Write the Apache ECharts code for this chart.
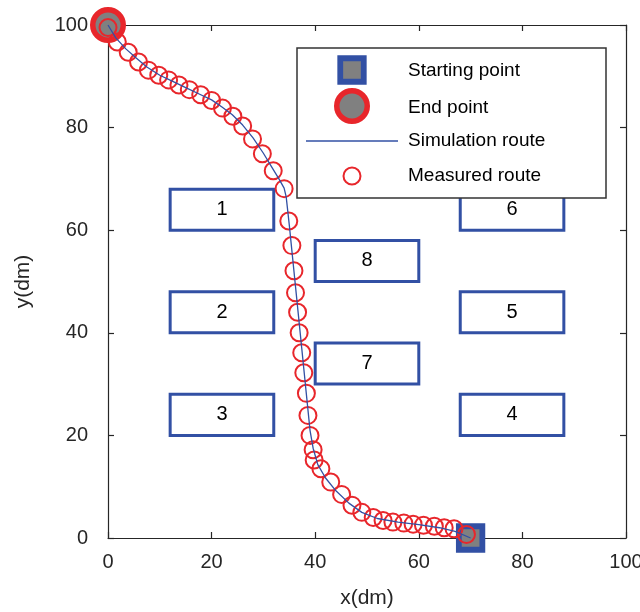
<!DOCTYPE html>
<html>
<head>
<meta charset="utf-8">
<title>Route planning</title>
<script src="https://cdn.jsdelivr.net/npm/echarts@6/dist/echarts.min.js"></script>
<style>
  html, body { margin: 0; padding: 0; background: #fff; }
  #chart { width: 640px; height: 612px; }
</style>
</head>
<body>
<div id="chart"></div>
<script>
// Axis ticks
const xTicks = [0, 20, 40, 60, 80, 100];
const yTicks = [0, 20, 40, 60, 80, 100];

// Obstacles: label and rectangle bounds (dm)
const obstacleNames = ['1', '2', '3', '4', '5', '6', '7', '8'];
const obstacleX0 = [12, 12, 12, 68, 68, 68, 40, 40];
const obstacleX1 = [32, 32, 32, 88, 88, 88, 60, 60];
const obstacleY0 = [60, 40, 20, 20, 40, 60, 30, 50];
const obstacleY1 = [68, 48, 28, 28, 48, 68, 38, 58];

// Start and end of the route
const startPoint = [70, 0];
const endPoint = [0, 100];

// Simulation route (x, y in dm)
const simX = [70, 67, 64, 60, 56, 52, 49, 46.5, 44, 42, 40.5, 39.6, 39, 38.5, 38, 37.4, 36.8, 36.2, 35.6, 35, 34.4, 34,
              33, 31.5, 30, 28, 26, 24, 22, 20, 17.5, 15, 12.5, 10, 7.5, 5.5, 3.5, 1.5, 0];
const simY = [0, 1.3, 2.0, 2.6, 3.1, 3.8, 5.0, 6.8, 9.2, 11.7, 14.3, 17.5, 21, 26, 31, 37, 43, 49, 55, 61, 66.5, 68.2,
              70, 72.5, 75, 78, 80.5, 82.5, 84, 85.4, 86.6, 87.8, 89, 90.2, 91.8, 93.5, 95.3, 97.5, 100];

// Measured route (x, y in dm)
const measX = [0, 1.8, 3.9, 5.9, 7.8, 9.8, 11.7, 13.7, 15.7, 17.9, 20.0, 22.1, 24.1, 26.0, 27.9, 29.8, 31.9, 34.0,
               34.9, 35.5, 35.9, 36.2, 36.6, 36.9, 37.4, 37.8, 38.3, 38.6, 39.0, 39.6, 39.8, 41.1, 43.0, 45.1, 47.1,
               49.0, 51.2, 53.1, 55.0, 57.1, 58.9, 60.9, 63.0, 64.9, 66.8, 69.2];
const measY = [99.5, 96.7, 94.7, 92.8, 91.2, 90.2, 89.3, 88.3, 87.4, 86.4, 85.3, 83.8, 82.2, 80.3, 77.8, 74.9, 71.6, 68.1,
               61.8, 57.0, 52.1, 47.8, 44.0, 40.0, 36.1, 32.2, 28.2, 23.9, 20.0, 17.2, 15.2, 13.5, 10.9, 8.5, 6.4,
               5.0, 4.0, 3.4, 3.1, 2.9, 2.7, 2.5, 2.3, 2.0, 1.8, 0.7];

const legendNames = ['Starting point', 'End point', 'Simulation route', 'Measured route'];

const FONT = '"Liberation Sans", Arial, Helvetica, sans-serif';
const BLUE = '#3250a4';
const RED = '#e8262b';
const GRAY = '#808080';
const INK = '#262626';

const obstacleData = obstacleNames.map((n, i) => [obstacleX0[i], obstacleY0[i], obstacleX1[i], obstacleY1[i], n]);
const simData = simX.map((x, i) => [x, simY[i]]);
const measData = measX.map((x, i) => [x, measY[i]]);

const axisCommon = {
  type: 'value',
  min: 0,
  max: 100,
  interval: 20,
  splitLine: { show: false },
  axisLine: { show: true, onZero: false, lineStyle: { color: INK, width: 1.2 } },
  axisTick: { show: true, inside: true, length: 6, lineStyle: { color: INK, width: 1.2 } }
};

const chart = echarts.init(document.getElementById('chart'), null, { renderer: 'canvas' });

// Legend panel drawn as graphics in pixel space
const LX = 297, LY = 48, LW = 309, LH = 150;
const legendGraphics = [
  { type: 'rect', shape: { x: LX, y: LY, width: LW, height: LH },
    style: { fill: '#fff', stroke: '#333', lineWidth: 1.5 }, z: 100 },
  { type: 'rect', shape: { x: 352 - 11.75, y: 70 - 11.75, width: 23.5, height: 23.5 },
    style: { fill: GRAY, stroke: BLUE, lineWidth: 5.8 }, z: 101 },
  { type: 'circle', shape: { cx: 352, cy: 106, r: 15.25 },
    style: { fill: GRAY, stroke: RED, lineWidth: 5.5 }, z: 101 },
  { type: 'line', shape: { x1: 306, y1: 141, x2: 398, y2: 141 },
    style: { stroke: BLUE, lineWidth: 1.3 }, z: 101 },
  { type: 'circle', shape: { cx: 352, cy: 176, r: 8.5 },
    style: { fill: 'none', stroke: RED, lineWidth: 2 }, z: 101 }
];
const legendTextY = [71, 108, 141, 176];
legendNames.forEach((name, i) => {
  legendGraphics.push({
    type: 'text', x: 408, y: legendTextY[i], z: 101,
    style: { text: name, fill: '#000', font: '19px ' + FONT, textVerticalAlign: 'middle', textAlign: 'left' }
  });
});

chart.setOption({
  animation: false,
  backgroundColor: '#fff',
  textStyle: { fontFamily: FONT },
  grid: { left: 108, right: 14, top: 25, bottom: 74, containLabel: false, outerBoundsMode: 'none' },
  xAxis: [
    Object.assign({}, axisCommon, {
      position: 'bottom',
      name: 'x(dm)', nameLocation: 'middle', nameGap: 50,
      nameTextStyle: { fontSize: 21, color: INK, fontFamily: FONT },
      axisLabel: { show: true, fontSize: 20, color: INK, margin: 14, fontFamily: FONT,
        formatter: v => xTicks.indexOf(v) >= 0 ? String(v) : '' }
    }),
    Object.assign({}, axisCommon, { position: 'top', axisLabel: { show: false } })
  ],
  yAxis: [
    Object.assign({}, axisCommon, {
      position: 'left',
      name: 'y(dm)', nameLocation: 'middle', nameGap: 74,
      nameTextStyle: { fontSize: 21, color: INK, fontFamily: FONT },
      axisLabel: { show: true, fontSize: 20, color: INK, margin: 20, fontFamily: FONT,
        formatter: v => yTicks.indexOf(v) >= 0 ? String(v) : '' }
    }),
    Object.assign({}, axisCommon, { position: 'right', axisLabel: { show: false } })
  ],
  graphic: legendGraphics,
  series: [
    {
      name: 'Obstacles',
      type: 'custom',
      z: 1,
      data: obstacleData,
      renderItem: function (params, api) {
        const p0 = api.coord([api.value(0), api.value(3)]);
        const p1 = api.coord([api.value(2), api.value(1)]);
        return {
          type: 'group',
          children: [
            { type: 'rect',
              shape: { x: p0[0], y: p0[1], width: p1[0] - p0[0], height: p1[1] - p0[1] },
              style: { fill: '#fff', stroke: BLUE, lineWidth: 3 } },
            { type: 'text',
              style: { text: obstacleData[params.dataIndex][4], x: (p0[0] + p1[0]) / 2, y: (p0[1] + p1[1]) / 2,
                       textAlign: 'center', textVerticalAlign: 'middle', fill: '#000', font: '20px ' + FONT } }
          ]
        };
      }
    },
    {
      name: legendNames[0],
      type: 'scatter',
      z: 3,
      clip: false,
      symbol: 'rect',
      symbolSize: 23.5,
      itemStyle: { color: GRAY, borderColor: BLUE, borderWidth: 5.8, opacity: 1 },
      data: [startPoint]
    },
    {
      name: legendNames[1],
      type: 'scatter',
      z: 3,
      clip: false,
      symbol: 'circle',
      symbolSize: 30.5,
      itemStyle: { color: GRAY, borderColor: RED, borderWidth: 5.5, opacity: 1 },
      data: [endPoint]
    },
    {
      name: legendNames[3],
      type: 'scatter',
      z: 4,
      clip: false,
      symbol: 'circle',
      symbolSize: 17,
      itemStyle: { color: 'rgba(0,0,0,0)', borderColor: RED, borderWidth: 2, opacity: 1 },
      data: measData
    },
    {
      name: legendNames[2],
      type: 'line',
      z: 5,
      showSymbol: false,
      smooth: false,
      clip: false,
      lineStyle: { color: BLUE, width: 1.3 },
      data: simData
    }
  ]
});
</script>
</body>
</html>
